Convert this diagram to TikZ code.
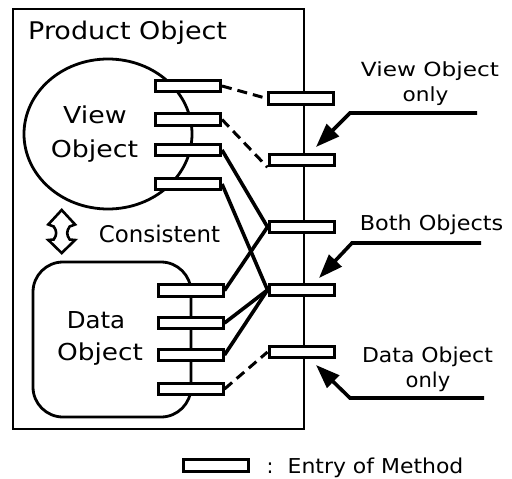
\documentclass[tikz,border=0pt]{standalone}
\usepackage{fontspec}
\setmainfont{DejaVu Sans}
\usepackage{graphicx}
\usetikzlibrary{arrows.meta}
\newcommand\sx[2]{\scalebox{#1}[1]{#2}}
\begin{document}
\begin{tikzpicture}[x=1pt,y=-1pt,
  entry/.style={draw, fill=white, line width=3pt, minimum width=65pt, minimum height=11.5pt, inner sep=0pt},
  lbl/.style={anchor=base, inner sep=0pt},
  big/.style={lbl, font=\fontsize{23.3}{26}\selectfont},
  small/.style={lbl, font=\fontsize{19.5}{22}\selectfont},
  mid/.style={lbl, font=\fontsize{20.5}{23}\selectfont},
  conn/.style={line width=3.6pt},
  dconn/.style={line width=3pt, dash pattern=on 10pt off 6pt},
  pointer/.style={line width=3.6pt, -{Triangle[length=24pt,width=17pt]}},
  outline/.style={line width=2.8pt}]
\useasboundingbox (0,0) rectangle (512,479);
\fill[white] (0,0) rectangle (512,479);
% product object box
\draw[outline] (13,9) rectangle (304,429);
\coordinate (lineend) at (304,429);
\node[lbl, anchor=base west, font=\fontsize{24.3}{27}\selectfont] (prod) at (28,39) {\sx{1.11}{Product Object}};
% view object
\draw[outline] (108,134) ellipse [x radius=84, y radius=75];
\node[big] (vw) at (95,123) {\sx{1.15}{View}};
\node[big] (vob) at (94.5,157) {\sx{1.15}{Object}};
% data object
\draw[outline, rounded corners=30pt] (33,262) rectangle (191,417);
\draw[outline] (191,290) -- (191,389);
\node[big] (dd) at (96,328) {\sx{1.05}{Data}};
\node[big] (dob) at (100,360) {\sx{1.13}{Object}};
% consistent
\draw[line width=2.6pt, line join=miter]
  (61.7,210) -- (48.3,224.5) -- (53.7,226.5)
  .. controls (57,231) and (57,235) .. (53.7,239.5)
  -- (48.3,240) -- (61.7,253) -- (75.1,240) -- (69.7,239.5)
  .. controls (66.4,235) and (66.4,231) .. (69.7,226.5)
  -- (75.1,224.5) -- cycle;
\node[big, font=\fontsize{22.9}{26}\selectfont] (cons) at (159.5,242) {Consistent};
% entries
\node[entry] (v1) at (188,86) {};
\node[entry] (v2) at (188,119.5) {};
\node[entry] (v3) at (188,150) {};
\node[entry] (v4) at (188,184) {};
\node[entry] (d1) at (190.5,290.5) {};
\node[entry] (d2) at (190.5,323) {};
\node[entry] (d3) at (190.5,355) {};
\node[entry] (d4) at (190.5,389) {};
% right line & entries
\coordinate (linetop) at (304,9);
\draw[outline] (linetop) -- (lineend);
\node[entry] (r1) at (301,98.5) {};
\node[entry] (r2) at (301.5,160) {};
\node[entry] (r3) at (301.5,227) {};
\node[entry] (r4) at (301.5,290) {};
\node[entry] (r5) at (301.5,352) {};
% connectors
\draw[dconn] (v1.east) -- (r1.west);
\draw[dconn] (v2.east) -- (r2.south west);
\draw[conn] (v3.east) -- (r3.west);
\draw[conn] (v4.east) -- (r4.west);
\draw[conn] (d1.east) -- (r3.west);
\draw[conn] (d2.east) -- (r4.west);
\draw[conn] (d3.east) -- (r4.west);
\draw[dconn] (d4.east) -- (r5.west);
% pointers
\coordinate (p1s) at (477,113); \coordinate (p1b) at (350,113); \coordinate (p1t) at (316,147);
\coordinate (p2s) at (481,243); \coordinate (p2b) at (352,243); \coordinate (p2t) at (319,278);
\coordinate (p3s) at (484,398); \coordinate (p3b) at (350,398); \coordinate (p3t) at (316,365);
\draw[pointer] (p1s) -- (p1b) -- (p1t);
\draw[pointer] (p2s) -- (p2b) -- (p2t);
\draw[pointer] (p3s) -- (p3b) -- (p3t);
% right labels
\node[small] (l1a) at (430,76) {\sx{1.19}{View Object}};
\node[small] (l1b) at (425.5,101.7) {\sx{1.11}{only}};
\node[mid] (l2) at (431.5,230) {\sx{1.09}{Both Objects}};
\node[mid] (l3a) at (427.5,362) {\sx{1.07}{Data Object}};
\node[mid] (l3b) at (428,387.5) {\sx{1.03}{only}};
% legend
\node[entry, minimum width=65pt, minimum height=12pt] (leg) at (216,465.5) {};
\node[mid] (colon) at (270,473) {:};
\node[mid] (legt) at (375.5,473) {\sx{1.07}{Entry of Method}};
\end{tikzpicture}
\end{document}
